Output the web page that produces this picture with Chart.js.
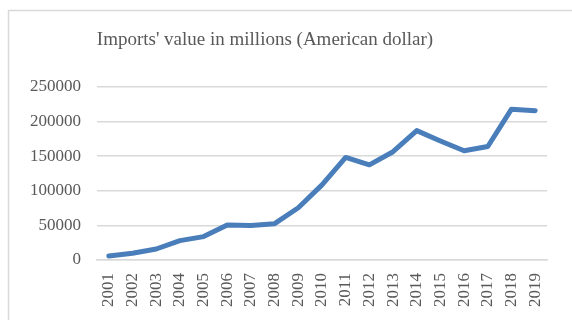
<!DOCTYPE html>
<html>
<head>
<meta charset="utf-8">
<script src="https://cdn.jsdelivr.net/npm/chart.js@4"></script>
<style>
  html, body { margin: 0; padding: 0; background: #fff; }
  #wrap { width: 572px; height: 320px; }
</style>
</head>
<body>
<div id="wrap"><canvas id="importsChart" width="572" height="320"></canvas></div>
<script>
// Imports chart data
const years = ["2001", "2002", "2003", "2004", "2005", "2006", "2007", "2008", "2009", "2010",
    "2011", "2012", "2013", "2014", "2015", "2016", "2017", "2018", "2019"];

const importsValue = [5800, 9700, 15900, 28000, 33800, 50500, 50000, 52500, 75500, 108600,
    148200, 137500, 156500, 187000, 172000, 157800, 164000, 218000, 215800];

const yTicks = [0, 50000, 100000, 150000, 200000, 250000];

const chartTitle = "Imports' value in millions (American dollar)";

const serif = "'Liberation Serif', 'Times New Roman', serif";

// light frame + title, drawn by hand so the title can sit where the original has it
const framePlugin = {
    id: "frame",
    beforeDraw(chart) {
        const ctx = chart.ctx;
        ctx.save();
        ctx.fillStyle = "#ffffff";
        ctx.fillRect(0, 0, chart.width, chart.height);
        ctx.strokeStyle = "#d9d9d9";
        ctx.lineWidth = 1.5;
        ctx.strokeRect(8.5, 10.5, chart.width + 10, chart.height + 10);
        ctx.restore();
    },
    afterDraw(chart) {
        const ctx = chart.ctx;
        ctx.save();
        ctx.fillStyle = "#595959";
        ctx.font = "19px " + serif;
        ctx.textAlign = "center";
        ctx.textBaseline = "middle";
        ctx.fillText(chartTitle, 265, 40);
        ctx.restore();
    }
};

new Chart(document.getElementById("importsChart"), {

    type: "line",

    data: {
        labels: years,
        datasets: [{
            label: "Imports",
            data: importsValue,
            borderColor: "#4a7ebb",
            borderWidth: 5,
            pointRadius: 0,
            tension: 0,
            borderCapStyle: "round",
            borderJoinStyle: "round",
            fill: false
        }]
    },

    options: {
        responsive: false,
        animation: false,
        layout: {
            padding: { left: 0, right: 25, top: 87, bottom: 0 }
        },
        plugins: {
            legend: { display: false },
            tooltip: { enabled: false },
            title: { display: false }
        },
        scales: {
            x: {
                offset: true,
                grid: { display: false, drawTicks: false },
                border: { color: "#d9d9d9", width: 1.5 },
                ticks: {
                    color: "#595959",
                    font: { family: serif, size: 17 },
                    minRotation: 90,
                    maxRotation: 90,
                    padding: 13,
                    autoSkip: false
                },
                afterFit(scale) { scale.height = 60; }
            },
            y: {
                min: 0,
                max: 250000,
                afterBuildTicks(scale) {
                    scale.ticks = yTicks.map(v => ({ value: v }));
                },
                grid: { color: "#d9d9d9", lineWidth: 1.5, drawTicks: false },
                border: { display: false },
                ticks: {
                    color: "#595959",
                    font: { family: serif, size: 17 },
                    padding: 16,
                    callback: v => String(v)
                },
                afterFit(scale) { scale.width = 97; }
            }
        }
    },

    plugins: [framePlugin]

});
</script>
</body>
</html>
